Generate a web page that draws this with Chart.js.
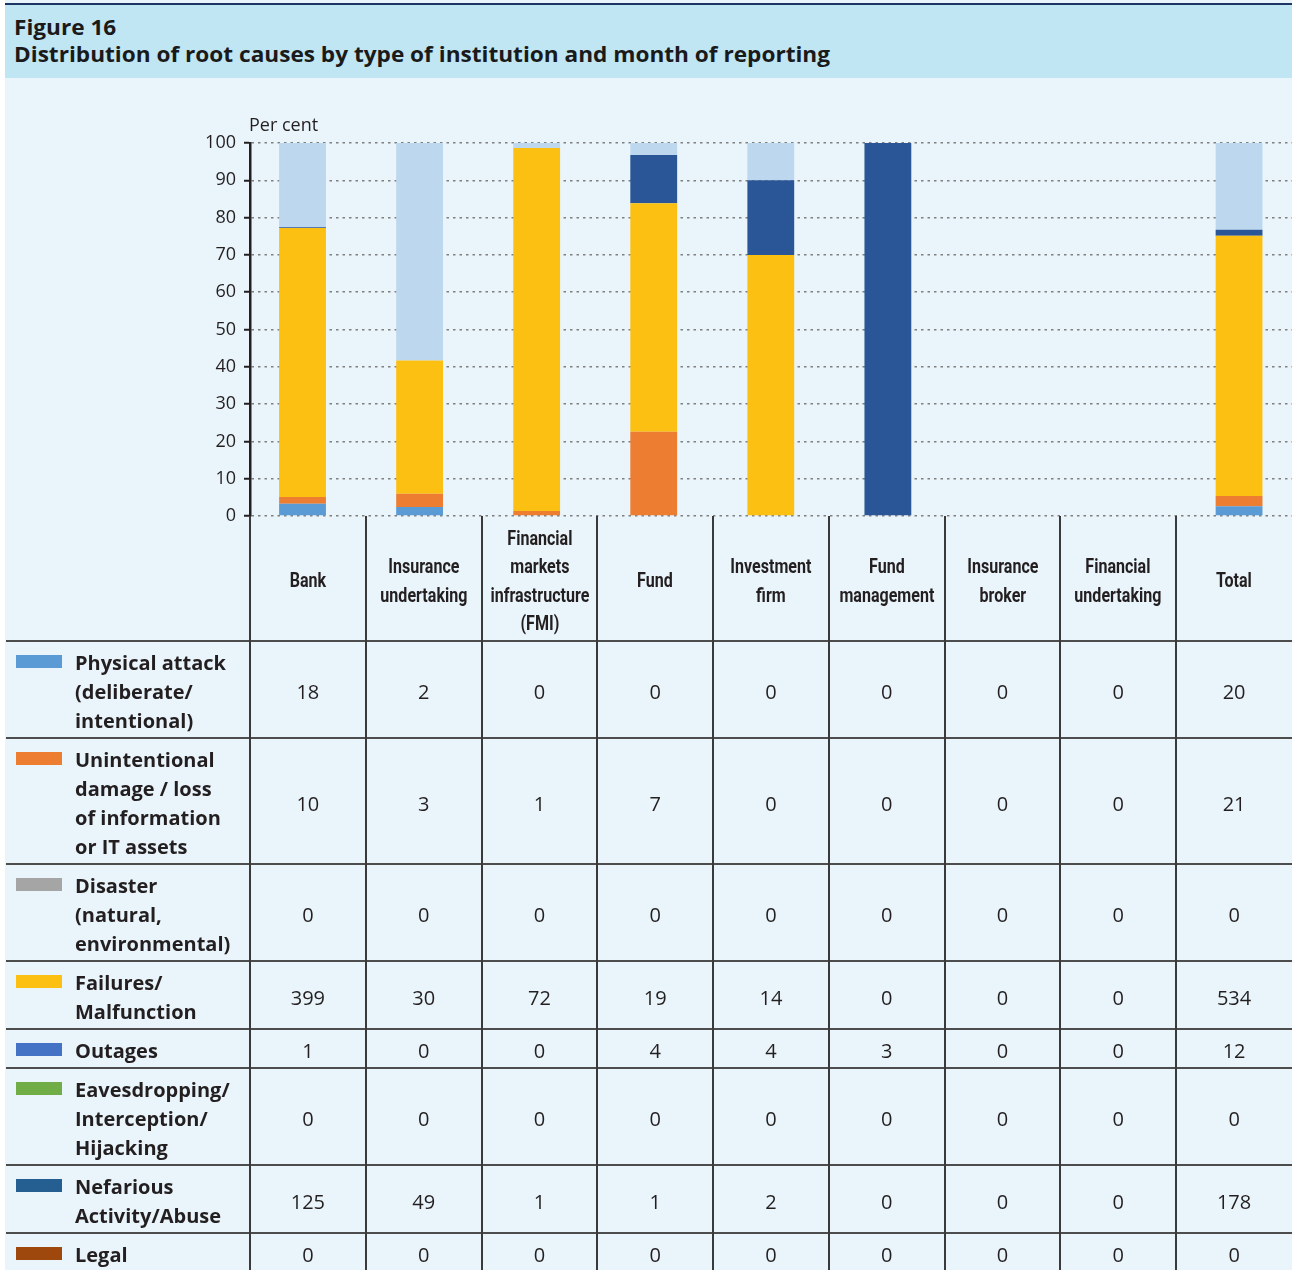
<!DOCTYPE html>
<html>
<head>
<meta charset="utf-8">
<script src="https://cdn.jsdelivr.net/npm/chart.js@4.4.1/dist/chart.umd.min.js"></script>
<style>
  html, body { margin: 0; padding: 0; background: #fff; }
  #page { position: relative; width: 1292px; height: 1270px; overflow: hidden; }
  #frame { position: absolute; left: 5px; top: 0; right: 0; bottom: 0; background: #eaf5fb; }
  #topline { position: absolute; left: 5px; right: 0; top: 3px; height: 2px; background: #1c3564; }
  #banner { position: absolute; left: 5px; right: 0; top: 5px; height: 73px; background: #c0e5f3; }
  .title { position: absolute; left: 14px; font: bold 20.5px 'Open Sans'; color: #1a1a1a; white-space: nowrap; transform-origin: 0 50%; line-height: 24px; }
  #c { position: absolute; left: 0; top: 0; }
  #unit { position: absolute; left: 249px; top: 112px; font: 18px 'Open Sans'; color: #231f20; white-space: nowrap; }
  .hl { position: absolute; height: 2px; background: #4d4d4d; }
  .vl { position: absolute; width: 2px; background: #3a3a3a; }
  .hdr { position: absolute; display: flex; flex-direction: column; align-items: center; justify-content: center;
         font: bold 20px Roboto; color: #231f20; line-height: 28.5px; white-space: nowrap; }
  .hdr span { display: block; }
  .lab { position: absolute; left: 75px; display: flex; flex-direction: column; justify-content: center;
         font: bold 19.5px 'Open Sans'; color: #231f20; line-height: 29px; white-space: nowrap; transform-origin: 0 50%; }
  .sw { position: absolute; left: 16px; width: 46px; height: 13px; }
  .val { position: absolute; display: flex; align-items: center; justify-content: center;
         font: 20px 'Open Sans'; color: #231f20; }
</style>
</head>
<body>
<div id="page">
  <div id="frame"></div>
  <div id="banner"></div>
  <div id="topline"></div>
  <div class="title" id="t1" style="top:15px">Figure 16</div>
  <div class="title" id="t2" style="top:42px">Distribution of root causes by type of institution and month of reporting</div>
  <canvas id="c" width="1292" height="1270"></canvas>
  <div id="unit">Per cent</div>
  <div id="table"></div>
</div>
<script>
// institutions (column headers, one entry per line)
const categories = [
  ["Bank"],
  ["Insurance", "undertaking"],
  ["Financial", "markets", "infrastructure", "(FMI)"],
  ["Fund"],
  ["Investment", "firm"],
  ["Fund", "management"],
  ["Insurance", "broker"],
  ["Financial", "undertaking"],
  ["Total"]
];

// root causes (row headers)
const causes = [
  ["Physical attack", "(deliberate/", "intentional)"],
  ["Unintentional", "damage / loss", "of information", "or IT assets"],
  ["Disaster", "(natural,", "environmental)"],
  ["Failures/", "Malfunction"],
  ["Outages"],
  ["Eavesdropping/", "Interception/", "Hijacking"],
  ["Nefarious", "Activity/Abuse"],
  ["Legal"]
];

// number of reported incidents per cause and institution
const physical      = [18, 2, 0, 0, 0, 0, 0, 0, 20];
const unintentional = [10, 3, 1, 7, 0, 0, 0, 0, 21];
const disaster      = [0, 0, 0, 0, 0, 0, 0, 0, 0];
const failures      = [399, 30, 72, 19, 14, 0, 0, 0, 534];
const outages       = [1, 0, 0, 4, 4, 3, 0, 0, 12];
const eavesdropping = [0, 0, 0, 0, 0, 0, 0, 0, 0];
const nefarious     = [125, 49, 1, 1, 2, 0, 0, 0, 178];
const legal         = [0, 0, 0, 0, 0, 0, 0, 0, 0];

const yTicks = [0, 10, 20, 30, 40, 50, 60, 70, 80, 90, 100];

const series = [physical, unintentional, disaster, failures, outages, eavesdropping, nefarious, legal];
const barColors    = ['#5b9bd5', '#ed7d31', '#a5a5a5', '#fcc013', '#2a5597', '#70ad47', '#bdd7ee', '#9e480e'];
const swatchColors = ['#5b9bd5', '#ed7d31', '#a5a5a5', '#fcc013', '#4472c4', '#70ad47', '#255e91', '#9e480e'];

// share of each cause in an institution's total, in per cent
const totals = categories.map((_, i) => series.reduce((s, arr) => s + arr[i], 0));
const pct = arr => arr.map((v, i) => totals[i] ? v / totals[i] * 100 : 0);

const datasets = series.map((arr, k) => ({
  label: causes[k].join(' '),
  data: pct(arr),
  backgroundColor: barColors[k],
  borderWidth: 0,
  barPercentage: 0.4,
  categoryPercentage: 1
}));

// in the original the bar slots are a little wider than the table columns
const shiftBars = {
  id: 'shiftBars',
  afterLayout(c) {
    const x = c.scales.x;
    x.left = c.chartArea.left - 6;
    x.right = c.chartArea.right + 5.6;
    x.width = x.right - x.left;
    x.configure();
  }
};

const chart = new Chart(document.getElementById('c'), {
  type: 'bar',
  data: { labels: categories.map(l => l.join(' ')), datasets: datasets },
  plugins: [shiftBars],
  options: {
    responsive: false,
    animation: false,
    events: [],
    layout: { padding: { top: 143, bottom: 754, left: 0, right: 0 } },
    plugins: { legend: { display: false }, tooltip: { enabled: false } },
    scales: {
      x: { display: false, stacked: true },
      y: {
        stacked: true, min: 0, max: 100,
        afterFit(s) { s.width = 250; },
        afterBuildTicks(s) { s.ticks = yTicks.map(v => ({ value: v })); },
        ticks: { padding: 8, color: '#231f20', font: { family: 'Open Sans', size: 18 } },
        grid: { color: '#7f7f7f', lineWidth: 1.5, tickLength: 6, tickColor: '#231f20', tickWidth: 2, tickBorderDash: [] },
        border: { color: '#231f20', width: 2.5, dash: [2.5, 4] }
      }
    }
  }
});

// --- data table under the plot ---
const measure = (() => {
  const ctx = document.createElement('canvas').getContext('2d');
  return (text, font) => { ctx.font = font; return ctx.measureText(text).width; };
})();

// title width like the original
const tk = 816 / measure(document.getElementById('t2').textContent, "bold 20.5px 'Open Sans'");
document.getElementById('t1').style.transform = 'scaleX(' + tk + ')';
document.getElementById('t2').style.transform = 'scaleX(' + tk + ')';

const area = chart.chartArea;
const step = (area.right - area.left) / categories.length;
const colLeft = i => area.left + i * step;
const table = document.getElementById('table');
const add = (cls, css, html) => {
  const d = document.createElement('div');
  d.className = cls;
  Object.assign(d.style, css);
  if (html !== undefined) d.innerHTML = html;
  table.appendChild(d);
  return d;
};

const headTop = area.bottom;
const headH = 125;
const hk = 99 / measure('infrastructure', 'bold 20px Roboto');
const lk = 151 / measure('Physical attack', "bold 19.5px 'Open Sans'");

categories.forEach((lines, i) => {
  add('hdr', { left: colLeft(i) + 'px', width: step + 'px', top: (headTop + 2) + 'px', height: headH + 'px',
               transform: 'scaleX(' + hk + ')' },
      lines.map(t => '<span>' + t + '</span>').join(''));
});

let y = headTop + headH;
add('hl', { left: '6px', right: '0', top: (y - 1) + 'px' });
causes.forEach((lines, k) => {
  const h = lines.length * 29 + 10;
  add('sw', { top: (y + 14) + 'px', background: swatchColors[k] });
  add('lab', { top: (y + 2) + 'px', height: h + 'px', transform: 'scaleX(' + lk + ')' }, lines.join('<br>'));
  series[k].forEach((v, i) => {
    add('val', { left: colLeft(i) + 'px', width: step + 'px', top: (y + 2) + 'px', height: h + 'px' }, String(v));
  });
  y += h;
  if (y < 1270) add('hl', { left: '6px', right: '0', top: (y - 1) + 'px' });
});

for (let i = 0; i < categories.length; i++) {
  add('vl', { left: (colLeft(i) - 1) + 'px', top: area.bottom + 'px', height: (1270 - area.bottom) + 'px' });
}
</script>
</body>
</html>
